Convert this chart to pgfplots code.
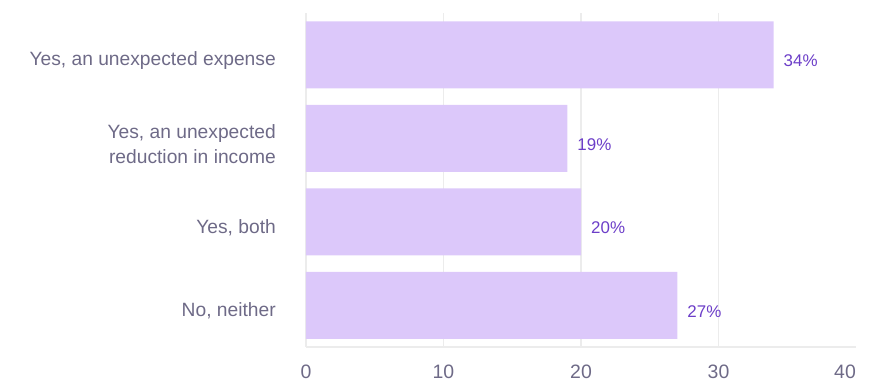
\documentclass[border=0pt]{standalone}
\usepackage{pgfplots}
\pgfplotsset{compat=1.18}
\usepackage{fontspec}
\setmainfont{Liberation Sans}
\definecolor{barc}{RGB}{220,200,250}
\definecolor{valc}{RGB}{108,62,200}
\definecolor{tickc}{RGB}{110,106,135}
\definecolor{gridc}{RGB}{236,236,236}
\begin{document}
\begin{tikzpicture}
\begin{axis}[
  xbar,
  scale only axis,
  width=550bp, height=334bp,
  xmin=0, xmax=40, ymin=-0.5, ymax=3.5,
  /pgf/number format/assume math mode=true,
  bar width=67bp,
  separate axis lines,
  axis x line*=bottom,
  axis y line*=left,
  x axis line style={gridc, line width=1.5bp, -},
  y axis line style={draw=none, -},
  xmajorgrids,
  grid style={gridc, line width=1.5bp},
  tick style={draw=none},
  major tick length=0pt,
  xtick={0,10,20,30},
  extra x ticks={40},
  extra x tick style={grid=none, xticklabel style={anchor=north east, xshift=0bp}},
  xticklabel style={font=\fontsize{19.5}{23}\selectfont, text=tickc, inner sep=0pt, yshift=-18bp},
  ytick={0,1,2,3},
  yticklabels={{No, neither},{Yes, both},{Yes, an unexpected\\reduction in income},{Yes, an unexpected expense}},
  yticklabel style={font=\fontsize{19.3}{24.5}\selectfont, text=tickc, inner sep=0pt, xshift=-30bp, yshift=-6bp, align=right},
  nodes near coords={\pgfmathprintnumber{\pgfplotspointmeta}\%},
  nodes near coords style={text=valc, font=\fontsize{17}{20}\selectfont, anchor=west, inner sep=0pt, xshift=10bp, yshift=-6bp},
  clip=false,
]
\addplot[fill=barc, draw=none] coordinates {(27,0) (20,1) (19,2) (34,3)};
\coordinate (bl) at (rel axis cs:0,0);
\coordinate (tr) at (rel axis cs:1,1);
\end{axis}
\pgfresetboundingbox
\path ([shift={(-306bp,-41bp)}]bl) rectangle ([shift={(20bp,13bp)}]tr);
\end{tikzpicture}
\end{document}
